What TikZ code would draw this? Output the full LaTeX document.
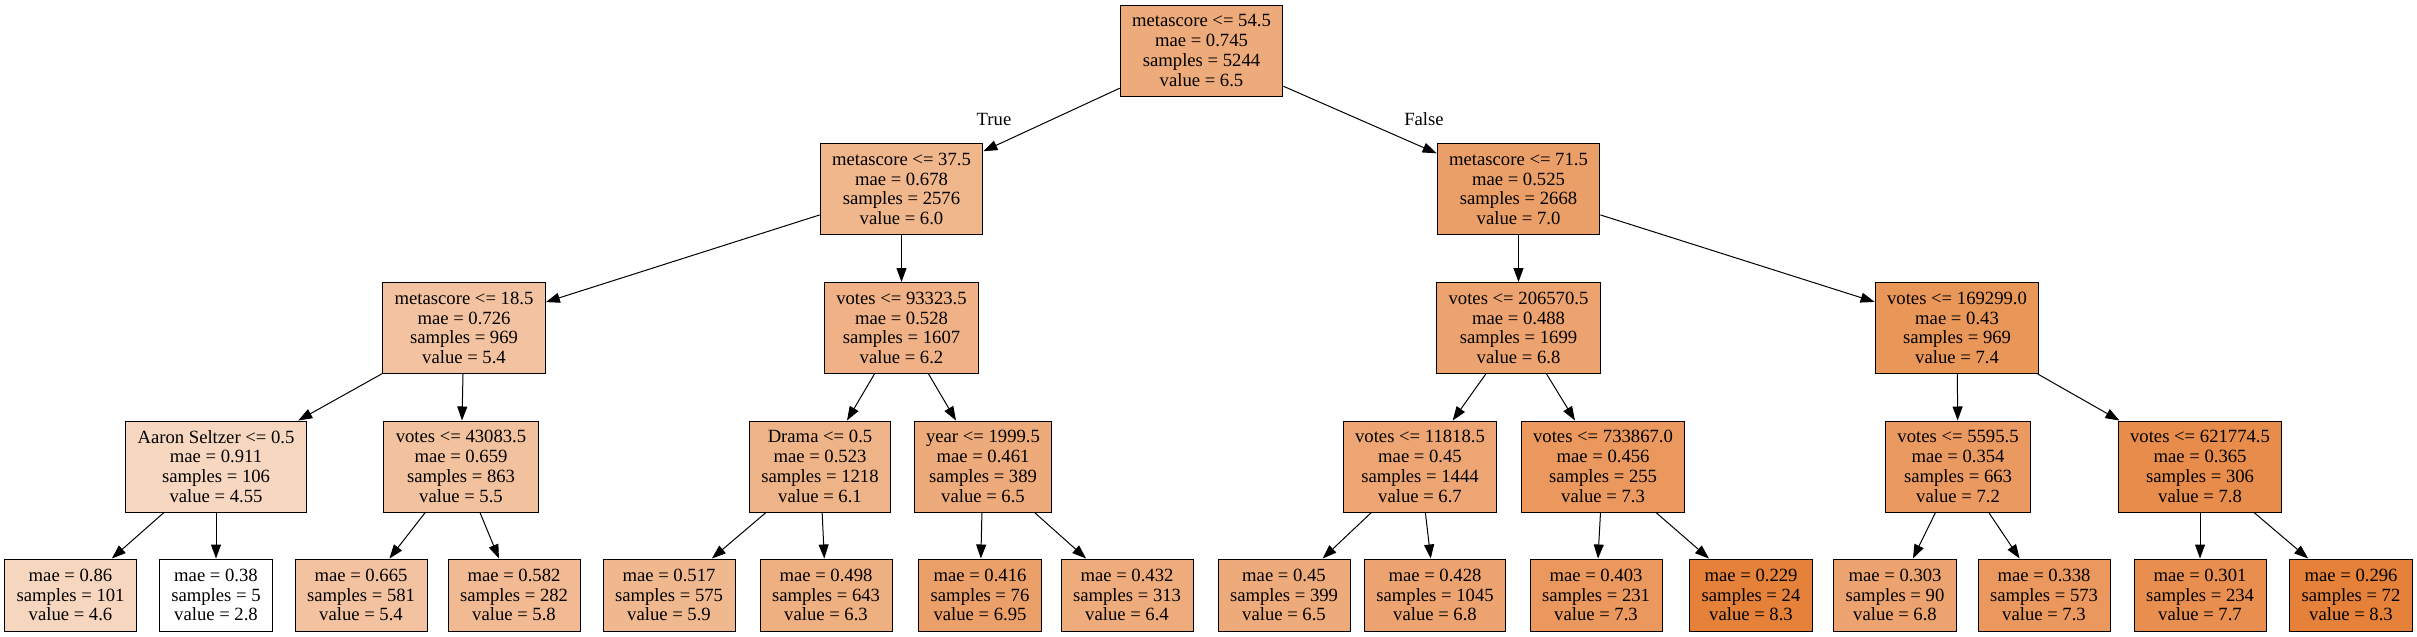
\documentclass[tikz,border=0pt]{standalone}
\usepackage{fontspec}
\setmainfont{Liberation Serif}
\usetikzlibrary{arrows.meta}
\definecolor{treebase}{RGB}{229,129,57}
\tikzset{
  tnode/.style={draw=black, line width=0.75pt, fill=treebase!#1!white, align=center,
    inner xsep=9pt, inner ysep=0pt, minimum height=68.25pt,
    font=\fontsize{14}{14.8}\selectfont},
  tleaf/.style={tnode=#1, minimum height=54pt},
  tedge/.style={line width=0.75pt, -{Triangle[length=10.5pt,width=7.5pt]}},
  elabel/.style={font=\fontsize{14}{14.8}\selectfont, inner sep=0pt}
}
\begin{document}
\begin{tikzpicture}[x=0.75pt,y=-0.75pt]
\useasboundingbox (0,0) rectangle (2417,636);
% level 0
\node[tnode=67.3] (n0) at (1201.5,50.5) {metascore <= 54.5\\mae = 0.745\\samples = 5244\\value = 6.5};
% level 1
\node[tnode=58.2] (n1) at (901.5,189) {metascore <= 37.5\\mae = 0.678\\samples = 2576\\value = 6.0};
\node[tnode=76.4] (n16) at (1518.5,189) {metascore <= 71.5\\mae = 0.525\\samples = 2668\\value = 7.0};
% level 2
\node[tnode=47.3] (n2) at (464,328) {metascore <= 18.5\\mae = 0.726\\samples = 969\\value = 5.4};
\node[tnode=61.8] (n9) at (901.5,328) {votes <= 93323.5\\mae = 0.528\\samples = 1607\\value = 6.2};
\node[tnode=72.7] (n17) at (1518.5,328) {votes <= 206570.5\\mae = 0.488\\samples = 1699\\value = 6.8};
\node[tnode=83.6] (n24) at (1957,328) {votes <= 169299.0\\mae = 0.43\\samples = 969\\value = 7.4};
% level 3
\node[tnode=31.8] (n3) at (216,466.5) {Aaron Seltzer <= 0.5\\mae = 0.911\\samples = 106\\value = 4.55};
\node[tnode=49.1] (n6) at (461,466.5) {votes <= 43083.5\\mae = 0.659\\samples = 863\\value = 5.5};
\node[tnode=60] (n10) at (820,466.5) {Drama <= 0.5\\mae = 0.523\\samples = 1218\\value = 6.1};
\node[tnode=67.3] (n13) at (983,466.5) {year <= 1999.5\\mae = 0.461\\samples = 389\\value = 6.5};
\node[tnode=70.9] (n18) at (1420,466.5) {votes <= 11818.5\\mae = 0.45\\samples = 1444\\value = 6.7};
\node[tnode=81.8] (n21) at (1603,466.5) {votes <= 733867.0\\mae = 0.456\\samples = 255\\value = 7.3};
\node[tnode=80] (n25) at (1958,466.5) {votes <= 5595.5\\mae = 0.354\\samples = 663\\value = 7.2};
\node[tnode=90.9] (n28) at (2200,466.5) {votes <= 621774.5\\mae = 0.365\\samples = 306\\value = 7.8};
% leaves
\node[tleaf=32.7] (n4) at (70.5,595) {mae = 0.86\\samples = 101\\value = 4.6};
\node[tleaf=0] (n5) at (216,595) {mae = 0.38\\samples = 5\\value = 2.8};
\node[tleaf=47.3] (n7) at (361,595) {mae = 0.665\\samples = 581\\value = 5.4};
\node[tleaf=54.5] (n8) at (514,595) {mae = 0.582\\samples = 282\\value = 5.8};
\node[tleaf=56.4] (n11) at (669,595) {mae = 0.517\\samples = 575\\value = 5.9};
\node[tleaf=63.6] (n12) at (826,595) {mae = 0.498\\samples = 643\\value = 6.3};
\node[tleaf=75.5] (n14) at (980,595) {mae = 0.416\\samples = 76\\value = 6.95};
\node[tleaf=65.5] (n15) at (1127,595) {mae = 0.432\\samples = 313\\value = 6.4};
\node[tleaf=67.3] (n19) at (1284,595) {mae = 0.45\\samples = 399\\value = 6.5};
\node[tleaf=72.7] (n20) at (1435,595) {mae = 0.428\\samples = 1045\\value = 6.8};
\node[tleaf=81.8] (n22) at (1596,595) {mae = 0.403\\samples = 231\\value = 7.3};
\node[tleaf=100] (n23) at (1751,595) {mae = 0.229\\samples = 24\\value = 8.3};
\node[tleaf=72.7] (n26) at (1895,595) {mae = 0.303\\samples = 90\\value = 6.8};
\node[tleaf=81.8] (n27) at (2044,595) {mae = 0.338\\samples = 573\\value = 7.3};
\node[tleaf=89.1] (n29) at (2200,595) {mae = 0.301\\samples = 234\\value = 7.7};
\node[tleaf=100] (n30) at (2351,595) {mae = 0.296\\samples = 72\\value = 8.3};
% edges
\draw[tedge] (n0) -- (n1);
\draw[tedge] (n0) -- (n16);
\draw[tedge] (n1) -- (n2);
\draw[tedge] (n1) -- (n9);
\draw[tedge] (n2) -- (n3);
\draw[tedge] (n2) -- (n6);
\draw[tedge] (n3) -- (n4);
\draw[tedge] (n3) -- (n5);
\draw[tedge] (n6) -- (n7);
\draw[tedge] (n6) -- (n8);
\draw[tedge] (n9) -- (n10);
\draw[tedge] (n9) -- (n13);
\draw[tedge] (n10) -- (n11);
\draw[tedge] (n10) -- (n12);
\draw[tedge] (n13) -- (n14);
\draw[tedge] (n13) -- (n15);
\draw[tedge] (n16) -- (n17);
\draw[tedge] (n16) -- (n24);
\draw[tedge] (n17) -- (n18);
\draw[tedge] (n17) -- (n21);
\draw[tedge] (n18) -- (n19);
\draw[tedge] (n18) -- (n20);
\draw[tedge] (n21) -- (n22);
\draw[tedge] (n21) -- (n23);
\draw[tedge] (n24) -- (n25);
\draw[tedge] (n24) -- (n28);
\draw[tedge] (n25) -- (n26);
\draw[tedge] (n25) -- (n27);
\draw[tedge] (n28) -- (n29);
\draw[tedge] (n28) -- (n30);
% edge labels
\node[elabel] (ltrue) at (994,119) {True};
\node[elabel] (lfalse) at (1424,119) {False};
\end{tikzpicture}
\end{document}
